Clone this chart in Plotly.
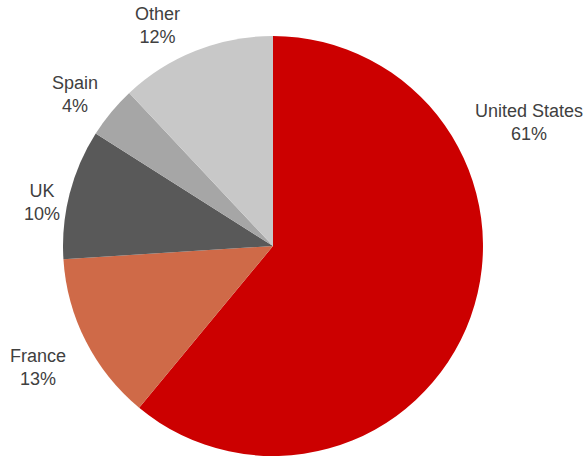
import plotly.graph_objects as go

# Data
countries = ["United States", "France", "UK", "Spain", "Other"]
shares = [61, 13, 10, 4, 12]
colors = ["#CC0000", "#CF6A48", "#595959", "#A6A6A6", "#C8C8C8"]

# Label placement (paper coordinates) for each slice label
label_pos = {
    "United States": (0.901, 0.732),
    "France": (0.064, 0.195),
    "UK": (0.072, 0.555),
    "Spain": (0.128, 0.792),
    "Other": (0.269, 0.945),
}

fig = go.Figure(go.Pie(
    labels=countries,
    values=shares,
    marker=dict(colors=colors, line=dict(width=0)),
    sort=False,
    direction="clockwise",
    rotation=0,
    textinfo="none",
    hoverinfo="label+percent",
    domain=dict(x=[63 / 587, 483 / 587], y=[0, 0.921]),
    showlegend=False,
))

total = sum(shares)
for name, val in zip(countries, shares):
    x, y = label_pos[name]
    fig.add_annotation(
        x=x, y=y, xref="paper", yref="paper",
        text=f"{name}<br>{round(val / total * 100)}%",
        showarrow=False, xanchor="center", yanchor="middle",
        font=dict(family="Liberation Sans, Arial", size=18, color="#404040"),
    )

fig.update_layout(
    width=587, height=456,
    margin=dict(l=0, r=0, t=0, b=0),
    paper_bgcolor="white",
    plot_bgcolor="white",
)

fig.write_html(
    "out.html",
    config={"displayModeBar": False},
    post_script="document.body.style.margin='0';document.body.style.overflow='hidden';",
)
